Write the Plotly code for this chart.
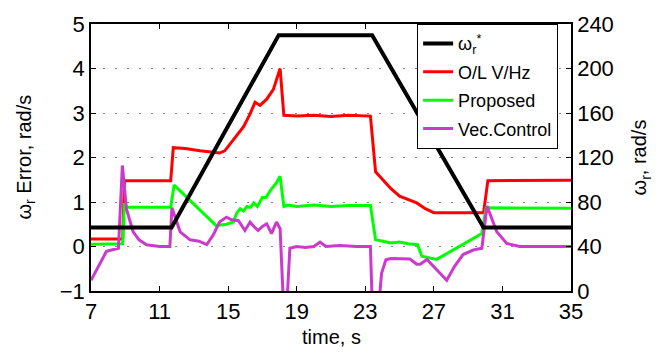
import plotly.graph_objects as go

# ---- data ----
t_ref = [7, 11.7, 17.95, 23.4, 29.9, 35]
w_ref = [57, 57, 230, 230, 57, 57]

t_ol = [7, 8.85, 8.95, 11.65, 11.8, 12.5, 13.36, 14.5, 14.8, 15.3, 15.9, 16.28, 16.57, 16.86,
        17.25, 17.64, 18.03, 18.25, 19, 20, 21, 22, 23.3, 23.6, 24.0, 24.5, 25.0, 26.0, 26.5,
        27.0, 28, 29.9, 30.15, 35]
e_ol = [0.17, 0.17, 1.48, 1.48, 2.22, 2.2, 2.15, 2.1, 2.15, 2.4, 2.69, 2.98, 3.24, 3.17,
        3.31, 3.53, 4.0, 2.95, 2.93, 2.95, 2.92, 2.95, 2.93, 1.68, 1.5, 1.3, 1.13, 0.98, 0.85,
        0.76, 0.76, 0.76, 1.48, 1.49]

t_pr = [7, 8.85, 8.95, 9.1, 11.65, 11.85, 14.3, 14.9, 15.3, 15.5, 15.7, 15.9, 16.1, 16.3,
        16.5, 16.7, 17.0, 17.2, 17.5, 17.8, 18.03, 18.25, 18.5, 19, 20, 21, 22, 23.3, 23.6,
        24, 24.5, 25, 25.5, 26.05, 26.3, 27.16, 28, 29.8, 30.05, 35]
e_pr = [0.05, 0.06, 0.97, 0.88, 0.88, 1.38, 0.47, 0.5, 0.55, 0.75, 0.85, 0.8, 0.9, 0.88,
        0.98, 0.9, 1.1, 1.1, 1.28, 1.42, 1.58, 0.9, 0.93, 0.9, 0.93, 0.9, 0.92, 0.92, 0.15,
        0.12, 0.08, 0.1, 0.06, 0.04, -0.22, -0.29, -0.1, 0.29, 0.87, 0.86]

t_vc = [7, 7.5, 7.9, 8.6, 8.83, 9.07, 9.46, 9.8, 10.24, 11, 11.6, 11.72, 12.0, 12.2, 12.78,
        13.3, 13.75, 14.13, 14.5, 14.9, 15.2, 15.6, 15.98, 16.28, 16.5, 16.75, 17.0, 17.25,
        17.53, 17.82, 18.03, 18.15, 18.25, 18.4, 18.6, 19, 19.5, 20.0, 20.36, 20.7, 21.5,
        22.5, 23.3, 23.42, 23.75, 23.95, 24.2, 24.5, 25.0, 25.6, 26.0, 26.2, 26.6, 27.0,
        27.75, 28.2, 28.7, 29.3, 29.8, 30.1, 30.67, 31.25, 32, 35]
e_vc = [-0.76, -0.4, -0.11, -0.04, 1.82, 0.84, 0.33, 0.15, 0.04, 0.0, 0.0, 0.87, 0.55, 0.33,
        0.15, 0.12, 0.04, 0.26, 0.55, 0.66, 0.6, 0.58, 0.36, 0.55, 0.45, 0.36, 0.45, 0.51,
        0.29, 0.55, 0.4, -0.5, -1.5, -1.5, -0.04, 0.0, -0.02, 0.0, 0.1, 0.0, 0.02,
        0.0, 0.0, -1.5, -1.5, -0.6, -0.3, -0.27, -0.28, -0.28, -0.4, -0.4, -0.29, -0.45,
        -0.76, -0.45, -0.18, -0.08, -0.04, 0.91, 0.33, 0.07, 0.0, 0.0]

x_ticks = [7, 11, 15, 19, 23, 27, 31, 35]
y_ticks = [-1, 0, 1, 2, 3, 4, 5]
y2_ticks = [0, 40, 80, 120, 160, 200, 240]

FONT = "Liberation Sans, Arial, sans-serif"

fig = go.Figure()
fig.add_trace(go.Scatter(x=t_ol, y=e_ol, mode="lines", name="O/L V/Hz", legendrank=2,
                         legendgroup="b", line=dict(color="#FF0000", width=3)))
fig.add_trace(go.Scatter(x=t_pr, y=e_pr, mode="lines", name="Proposed", legendrank=3,
                         legendgroup="c", line=dict(color="#00FF00", width=3)))
fig.add_trace(go.Scatter(x=t_vc, y=e_vc, mode="lines", name="Vec.Control", legendrank=4,
                         legendgroup="d", line=dict(color="#CC3ACC", width=3)))
fig.add_trace(go.Scatter(x=t_ref, y=w_ref, mode="lines", name="ω<sub>r</sub><sup>*</sup>",
                         legendrank=1, legendgroup="a", yaxis="y2",
                         line=dict(color="#000000", width=4)))

axis_common = dict(showline=True, linecolor="black", linewidth=1.5, ticks="inside",
                   ticklen=5, tickcolor="black", tickwidth=1,
                   tickfont=dict(family=FONT, size=22, color="black"), zeroline=False)

fig.update_layout(
    width=662, height=354,
    margin=dict(l=91, r=91, t=16, b=63),
    paper_bgcolor="white", plot_bgcolor="white",
    font=dict(family=FONT, color="black"),
    xaxis=dict(range=[7, 35], tickvals=x_ticks, mirror="ticks", showgrid=False, **axis_common),
    yaxis=dict(range=[-1, 5], tickvals=y_ticks, showgrid=True, gridcolor="#888888",
               gridwidth=1.2, griddash="2px,10px", **axis_common),
    yaxis2=dict(range=[0, 240], tickvals=y2_ticks, overlaying="y", side="right",
                showgrid=False, **axis_common),
    showlegend=True,
    legend=dict(x=0.679, y=1, xanchor="left", yanchor="top", bgcolor="white",
                bordercolor="black", borderwidth=1.2, traceorder="grouped",
                tracegroupgap=2, font=dict(family=FONT, size=18, color="black")),
    annotations=[
        dict(text="time, s", xref="paper", yref="paper", x=0.5, y=-0.171, showarrow=False,
             font=dict(size=20, family=FONT), xanchor="center", yanchor="middle"),
        dict(text="ω<sub>r</sub> Error, rad/s", xref="paper", yref="paper", x=-0.1375, y=0.5,
             textangle=-90, showarrow=False, font=dict(size=20, family=FONT),
             xanchor="center", yanchor="middle"),
        dict(text="ω<sub>r</sub>, rad/s", xref="paper", yref="paper", x=1.1458, y=0.5,
             textangle=-90, showarrow=False, font=dict(size=20, family=FONT),
             xanchor="center", yanchor="middle"),
    ],
)

fig.write_html("out.html")
